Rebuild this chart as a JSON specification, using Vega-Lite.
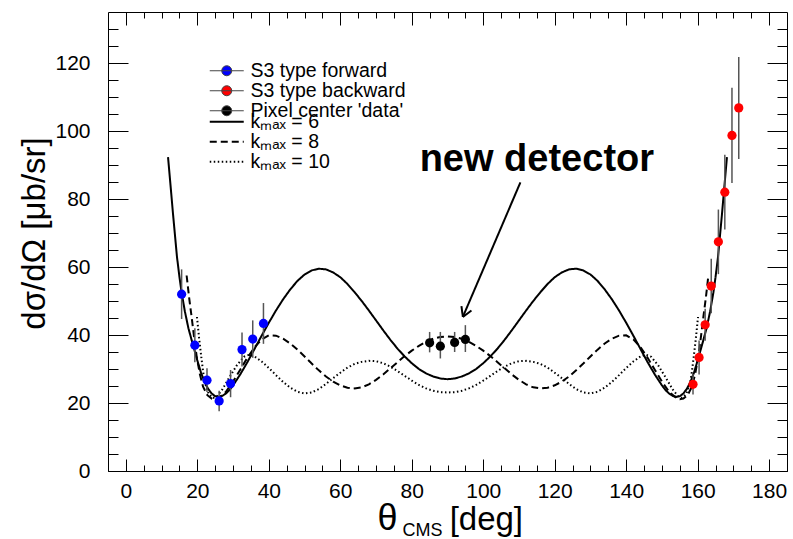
{
  "$schema": "https://vega.github.io/schema/vega-lite/v6.json",
  "width": 679,
  "height": 459,
  "autosize": {"type": "none"},
  "padding": {"left": 108, "top": 12, "right": 6, "bottom": 68},
  "background": "white",
  "config": {
    "view": {"stroke": "black", "strokeWidth": 1},
    "axis": {"domain": false, "grid": false, "labelColor": "black", "tickColor": "black", "tickWidth": 1, "labelOverlap": false, "labelFlush": false}
  },
  "datasets": {
    "curves": [
      {"k":"kₘₐₓ = 6","t":11.8,"v":92.3},{"k":"kₘₐₓ = 6","t":12.5,"v":84.0},{"k":"kₘₐₓ = 6","t":13.2,"v":75.5},{"k":"kₘₐₓ = 6","t":14.3,"v":63.0},{"k":"kₘₐₓ = 6","t":15.0,"v":57.0},{"k":"kₘₐₓ = 6","t":15.6,"v":52.5},{"k":"kₘₐₓ = 6","t":16.5,"v":47.0},{"k":"kₘₐₓ = 6","t":17.5,"v":42.0},{"k":"kₘₐₓ = 6","t":18.8,"v":37.0},{"k":"kₘₐₓ = 6","t":20.0,"v":32.5},{"k":"kₘₐₓ = 6","t":21.0,"v":29.0},{"k":"kₘₐₓ = 6","t":22.0,"v":26.2},{"k":"kₘₐₓ = 6","t":23.0,"v":24.2},{"k":"kₘₐₓ = 6","t":24.0,"v":22.8},{"k":"kₘₐₓ = 6","t":25.0,"v":22.0},{"k":"kₘₐₓ = 6","t":26.0,"v":21.8},{"k":"kₘₐₓ = 6","t":27.0,"v":22.1},{"k":"kₘₐₓ = 6","t":28.0,"v":22.8},{"k":"kₘₐₓ = 6","t":29.0,"v":23.8},{"k":"kₘₐₓ = 6","t":30.0,"v":25.2},{"k":"kₘₐₓ = 6","t":32.0,"v":28.4},{"k":"kₘₐₓ = 6","t":34.0,"v":32.0},{"k":"kₘₐₓ = 6","t":36.0,"v":35.9},{"k":"kₘₐₓ = 6","t":38.0,"v":39.8},{"k":"kₘₐₓ = 6","t":40.0,"v":43.6},{"k":"kₘₐₓ = 6","t":42.0,"v":47.2},{"k":"kₘₐₓ = 6","t":44.0,"v":50.5},{"k":"kₘₐₓ = 6","t":46.0,"v":53.4},{"k":"kₘₐₓ = 6","t":48.0,"v":55.9},{"k":"kₘₐₓ = 6","t":50.0,"v":57.8},{"k":"kₘₐₓ = 6","t":52.0,"v":59.0},{"k":"kₘₐₓ = 6","t":54.0,"v":59.5},{"k":"kₘₐₓ = 6","t":56.0,"v":59.3},{"k":"kₘₐₓ = 6","t":58.0,"v":58.4},{"k":"kₘₐₓ = 6","t":60.0,"v":57.0},{"k":"kₘₐₓ = 6","t":62.0,"v":55.0},{"k":"kₘₐₓ = 6","t":64.0,"v":52.6},{"k":"kₘₐₓ = 6","t":66.0,"v":50.0},{"k":"kₘₐₓ = 6","t":68.0,"v":47.2},{"k":"kₘₐₓ = 6","t":70.0,"v":44.3},{"k":"kₘₐₓ = 6","t":72.0,"v":41.4},{"k":"kₘₐₓ = 6","t":74.0,"v":38.6},{"k":"kₘₐₓ = 6","t":76.0,"v":36.0},{"k":"kₘₐₓ = 6","t":78.0,"v":33.7},{"k":"kₘₐₓ = 6","t":80.0,"v":31.7},{"k":"kₘₐₓ = 6","t":82.0,"v":30.0},{"k":"kₘₐₓ = 6","t":84.0,"v":28.7},{"k":"kₘₐₓ = 6","t":86.0,"v":27.8},{"k":"kₘₐₓ = 6","t":88.0,"v":27.2},{"k":"kₘₐₓ = 6","t":90.0,"v":27.0},{"k":"kₘₐₓ = 6","t":92.0,"v":27.2},{"k":"kₘₐₓ = 6","t":94.0,"v":27.8},{"k":"kₘₐₓ = 6","t":96.0,"v":28.7},{"k":"kₘₐₓ = 6","t":98.0,"v":30.0},{"k":"kₘₐₓ = 6","t":100.0,"v":31.7},{"k":"kₘₐₓ = 6","t":102.0,"v":33.7},{"k":"kₘₐₓ = 6","t":104.0,"v":36.0},{"k":"kₘₐₓ = 6","t":106.0,"v":38.6},{"k":"kₘₐₓ = 6","t":108.0,"v":41.4},{"k":"kₘₐₓ = 6","t":110.0,"v":44.3},{"k":"kₘₐₓ = 6","t":112.0,"v":47.2},{"k":"kₘₐₓ = 6","t":114.0,"v":50.0},{"k":"kₘₐₓ = 6","t":116.0,"v":52.6},{"k":"kₘₐₓ = 6","t":118.0,"v":55.0},{"k":"kₘₐₓ = 6","t":120.0,"v":57.0},{"k":"kₘₐₓ = 6","t":122.0,"v":58.4},{"k":"kₘₐₓ = 6","t":124.0,"v":59.3},{"k":"kₘₐₓ = 6","t":126.0,"v":59.5},{"k":"kₘₐₓ = 6","t":128.0,"v":59.0},{"k":"kₘₐₓ = 6","t":130.0,"v":57.8},{"k":"kₘₐₓ = 6","t":132.0,"v":55.9},{"k":"kₘₐₓ = 6","t":134.0,"v":53.4},{"k":"kₘₐₓ = 6","t":136.0,"v":50.5},{"k":"kₘₐₓ = 6","t":138.0,"v":47.2},{"k":"kₘₐₓ = 6","t":140.0,"v":43.6},{"k":"kₘₐₓ = 6","t":142.0,"v":39.8},{"k":"kₘₐₓ = 6","t":144.0,"v":35.9},{"k":"kₘₐₓ = 6","t":146.0,"v":32.0},{"k":"kₘₐₓ = 6","t":148.0,"v":28.4},{"k":"kₘₐₓ = 6","t":150.0,"v":25.2},{"k":"kₘₐₓ = 6","t":151.0,"v":23.8},{"k":"kₘₐₓ = 6","t":152.0,"v":22.8},{"k":"kₘₐₓ = 6","t":153.0,"v":22.1},{"k":"kₘₐₓ = 6","t":154.0,"v":21.8},{"k":"kₘₐₓ = 6","t":155.0,"v":22.0},{"k":"kₘₐₓ = 6","t":156.0,"v":22.8},{"k":"kₘₐₓ = 6","t":157.0,"v":24.2},{"k":"kₘₐₓ = 6","t":158.0,"v":26.2},{"k":"kₘₐₓ = 6","t":159.0,"v":29.0},{"k":"kₘₐₓ = 6","t":160.0,"v":32.5},{"k":"kₘₐₓ = 6","t":161.2,"v":37.0},{"k":"kₘₐₓ = 6","t":162.5,"v":42.0},{"k":"kₘₐₓ = 6","t":163.5,"v":47.0},{"k":"kₘₐₓ = 6","t":164.4,"v":52.5},{"k":"kₘₐₓ = 6","t":165.0,"v":57.0},{"k":"kₘₐₓ = 6","t":165.7,"v":63.0},{"k":"kₘₐₓ = 6","t":166.8,"v":75.5},{"k":"kₘₐₓ = 6","t":167.5,"v":84.0},{"k":"kₘₐₓ = 6","t":168.2,"v":92.3},
      {"k":"kₘₐₓ = 8","t":17.0,"v":57.5},{"k":"kₘₐₓ = 8","t":17.7,"v":51.0},{"k":"kₘₐₓ = 8","t":18.4,"v":45.3},{"k":"kₘₐₓ = 8","t":19.1,"v":39.3},{"k":"kₘₐₓ = 8","t":19.8,"v":33.8},{"k":"kₘₐₓ = 8","t":20.7,"v":28.5},{"k":"kₘₐₓ = 8","t":21.6,"v":24.8},{"k":"kₘₐₓ = 8","t":22.8,"v":22.3},{"k":"kₘₐₓ = 8","t":24.0,"v":21.3},{"k":"kₘₐₓ = 8","t":25.0,"v":21.1},{"k":"kₘₐₓ = 8","t":26.0,"v":21.5},{"k":"kₘₐₓ = 8","t":28.0,"v":23.3},{"k":"kₘₐₓ = 8","t":30.0,"v":26.3},{"k":"kₘₐₓ = 8","t":32.0,"v":29.8},{"k":"kₘₐₓ = 8","t":34.0,"v":33.3},{"k":"kₘₐₓ = 8","t":36.0,"v":36.4},{"k":"kₘₐₓ = 8","t":38.0,"v":38.7},{"k":"kₘₐₓ = 8","t":40.0,"v":39.9},{"k":"kₘₐₓ = 8","t":42.0,"v":39.8},{"k":"kₘₐₓ = 8","t":44.0,"v":38.9},{"k":"kₘₐₓ = 8","t":46.0,"v":37.5},{"k":"kₘₐₓ = 8","t":48.0,"v":35.7},{"k":"kₘₐₓ = 8","t":50.0,"v":33.7},{"k":"kₘₐₓ = 8","t":52.0,"v":31.6},{"k":"kₘₐₓ = 8","t":54.0,"v":29.6},{"k":"kₘₐₓ = 8","t":56.0,"v":27.8},{"k":"kₘₐₓ = 8","t":58.0,"v":26.3},{"k":"kₘₐₓ = 8","t":60.0,"v":25.2},{"k":"kₘₐₓ = 8","t":62.0,"v":24.5},{"k":"kₘₐₓ = 8","t":64.0,"v":24.3},{"k":"kₘₐₓ = 8","t":66.0,"v":24.6},{"k":"kₘₐₓ = 8","t":68.0,"v":25.5},{"k":"kₘₐₓ = 8","t":70.0,"v":26.8},{"k":"kₘₐₓ = 8","t":72.0,"v":28.4},{"k":"kₘₐₓ = 8","t":74.0,"v":30.2},{"k":"kₘₐₓ = 8","t":76.0,"v":32.0},{"k":"kₘₐₓ = 8","t":78.0,"v":33.8},{"k":"kₘₐₓ = 8","t":80.0,"v":35.4},{"k":"kₘₐₓ = 8","t":82.0,"v":36.8},{"k":"kₘₐₓ = 8","t":84.0,"v":38.0},{"k":"kₘₐₓ = 8","t":86.0,"v":38.9},{"k":"kₘₐₓ = 8","t":88.0,"v":39.4},{"k":"kₘₐₓ = 8","t":90.0,"v":39.6},{"k":"kₘₐₓ = 8","t":92.0,"v":39.4},{"k":"kₘₐₓ = 8","t":94.0,"v":38.9},{"k":"kₘₐₓ = 8","t":96.0,"v":38.0},{"k":"kₘₐₓ = 8","t":98.0,"v":36.8},{"k":"kₘₐₓ = 8","t":100.0,"v":35.4},{"k":"kₘₐₓ = 8","t":102.0,"v":33.8},{"k":"kₘₐₓ = 8","t":104.0,"v":32.0},{"k":"kₘₐₓ = 8","t":106.0,"v":30.2},{"k":"kₘₐₓ = 8","t":108.0,"v":28.4},{"k":"kₘₐₓ = 8","t":110.0,"v":26.8},{"k":"kₘₐₓ = 8","t":112.0,"v":25.5},{"k":"kₘₐₓ = 8","t":114.0,"v":24.6},{"k":"kₘₐₓ = 8","t":116.0,"v":24.3},{"k":"kₘₐₓ = 8","t":118.0,"v":24.5},{"k":"kₘₐₓ = 8","t":120.0,"v":25.2},{"k":"kₘₐₓ = 8","t":122.0,"v":26.3},{"k":"kₘₐₓ = 8","t":124.0,"v":27.8},{"k":"kₘₐₓ = 8","t":126.0,"v":29.6},{"k":"kₘₐₓ = 8","t":128.0,"v":31.6},{"k":"kₘₐₓ = 8","t":130.0,"v":33.7},{"k":"kₘₐₓ = 8","t":132.0,"v":35.7},{"k":"kₘₐₓ = 8","t":134.0,"v":37.5},{"k":"kₘₐₓ = 8","t":136.0,"v":38.9},{"k":"kₘₐₓ = 8","t":138.0,"v":39.8},{"k":"kₘₐₓ = 8","t":140.0,"v":39.9},{"k":"kₘₐₓ = 8","t":142.0,"v":38.7},{"k":"kₘₐₓ = 8","t":144.0,"v":36.4},{"k":"kₘₐₓ = 8","t":146.0,"v":33.3},{"k":"kₘₐₓ = 8","t":148.0,"v":29.8},{"k":"kₘₐₓ = 8","t":150.0,"v":26.3},{"k":"kₘₐₓ = 8","t":152.0,"v":23.3},{"k":"kₘₐₓ = 8","t":154.0,"v":21.5},{"k":"kₘₐₓ = 8","t":155.0,"v":21.1},{"k":"kₘₐₓ = 8","t":156.0,"v":21.3},{"k":"kₘₐₓ = 8","t":157.2,"v":22.3},{"k":"kₘₐₓ = 8","t":158.4,"v":24.8},{"k":"kₘₐₓ = 8","t":159.3,"v":28.5},{"k":"kₘₐₓ = 8","t":160.2,"v":33.8},{"k":"kₘₐₓ = 8","t":160.9,"v":39.3},{"k":"kₘₐₓ = 8","t":161.6,"v":45.3},{"k":"kₘₐₓ = 8","t":162.3,"v":51.0},{"k":"kₘₐₓ = 8","t":163.0,"v":57.5},
      {"k":"kₘₐₓ = 10","t":19.9,"v":45.3},{"k":"kₘₐₓ = 10","t":20.5,"v":39.0},{"k":"kₘₐₓ = 10","t":21.1,"v":33.6},{"k":"kₘₐₓ = 10","t":21.6,"v":29.3},{"k":"kₘₐₓ = 10","t":22.1,"v":26.0},{"k":"kₘₐₓ = 10","t":23.2,"v":22.6},{"k":"kₘₐₓ = 10","t":24.4,"v":21.5},{"k":"kₘₐₓ = 10","t":25.5,"v":22.0},{"k":"kₘₐₓ = 10","t":27.0,"v":24.0},{"k":"kₘₐₓ = 10","t":29.0,"v":27.6},{"k":"kₘₐₓ = 10","t":31.0,"v":31.0},{"k":"kₘₐₓ = 10","t":33.0,"v":33.6},{"k":"kₘₐₓ = 10","t":34.5,"v":34.2},{"k":"kₘₐₓ = 10","t":36.0,"v":33.7},{"k":"kₘₐₓ = 10","t":38.0,"v":32.2},{"k":"kₘₐₓ = 10","t":40.0,"v":30.3},{"k":"kₘₐₓ = 10","t":42.0,"v":28.2},{"k":"kₘₐₓ = 10","t":44.0,"v":26.2},{"k":"kₘₐₓ = 10","t":46.0,"v":24.5},{"k":"kₘₐₓ = 10","t":48.0,"v":23.3},{"k":"kₘₐₓ = 10","t":50.0,"v":22.8},{"k":"kₘₐₓ = 10","t":52.0,"v":23.1},{"k":"kₘₐₓ = 10","t":54.0,"v":24.1},{"k":"kₘₐₓ = 10","t":56.0,"v":25.6},{"k":"kₘₐₓ = 10","t":58.0,"v":27.3},{"k":"kₘₐₓ = 10","t":60.0,"v":28.9},{"k":"kₘₐₓ = 10","t":62.0,"v":30.4},{"k":"kₘₐₓ = 10","t":64.0,"v":31.5},{"k":"kₘₐₓ = 10","t":66.0,"v":32.1},{"k":"kₘₐₓ = 10","t":68.0,"v":32.4},{"k":"kₘₐₓ = 10","t":70.0,"v":32.3},{"k":"kₘₐₓ = 10","t":72.0,"v":31.7},{"k":"kₘₐₓ = 10","t":74.0,"v":30.7},{"k":"kₘₐₓ = 10","t":76.0,"v":29.4},{"k":"kₘₐₓ = 10","t":78.0,"v":28.0},{"k":"kₘₐₓ = 10","t":80.0,"v":26.6},{"k":"kₘₐₓ = 10","t":82.0,"v":25.3},{"k":"kₘₐₓ = 10","t":84.0,"v":24.3},{"k":"kₘₐₓ = 10","t":86.0,"v":23.6},{"k":"kₘₐₓ = 10","t":88.0,"v":23.2},{"k":"kₘₐₓ = 10","t":90.0,"v":23.1},{"k":"kₘₐₓ = 10","t":92.0,"v":23.2},{"k":"kₘₐₓ = 10","t":94.0,"v":23.6},{"k":"kₘₐₓ = 10","t":96.0,"v":24.3},{"k":"kₘₐₓ = 10","t":98.0,"v":25.3},{"k":"kₘₐₓ = 10","t":100.0,"v":26.6},{"k":"kₘₐₓ = 10","t":102.0,"v":28.0},{"k":"kₘₐₓ = 10","t":104.0,"v":29.4},{"k":"kₘₐₓ = 10","t":106.0,"v":30.7},{"k":"kₘₐₓ = 10","t":108.0,"v":31.7},{"k":"kₘₐₓ = 10","t":110.0,"v":32.3},{"k":"kₘₐₓ = 10","t":112.0,"v":32.4},{"k":"kₘₐₓ = 10","t":114.0,"v":32.1},{"k":"kₘₐₓ = 10","t":116.0,"v":31.5},{"k":"kₘₐₓ = 10","t":118.0,"v":30.4},{"k":"kₘₐₓ = 10","t":120.0,"v":28.9},{"k":"kₘₐₓ = 10","t":122.0,"v":27.3},{"k":"kₘₐₓ = 10","t":124.0,"v":25.6},{"k":"kₘₐₓ = 10","t":126.0,"v":24.1},{"k":"kₘₐₓ = 10","t":128.0,"v":23.1},{"k":"kₘₐₓ = 10","t":130.0,"v":22.8},{"k":"kₘₐₓ = 10","t":132.0,"v":23.3},{"k":"kₘₐₓ = 10","t":134.0,"v":24.5},{"k":"kₘₐₓ = 10","t":136.0,"v":26.2},{"k":"kₘₐₓ = 10","t":138.0,"v":28.2},{"k":"kₘₐₓ = 10","t":140.0,"v":30.3},{"k":"kₘₐₓ = 10","t":142.0,"v":32.2},{"k":"kₘₐₓ = 10","t":144.0,"v":33.7},{"k":"kₘₐₓ = 10","t":145.5,"v":34.2},{"k":"kₘₐₓ = 10","t":147.0,"v":33.6},{"k":"kₘₐₓ = 10","t":149.0,"v":31.0},{"k":"kₘₐₓ = 10","t":151.0,"v":27.6},{"k":"kₘₐₓ = 10","t":153.0,"v":24.0},{"k":"kₘₐₓ = 10","t":154.5,"v":22.0},{"k":"kₘₐₓ = 10","t":155.6,"v":21.5},{"k":"kₘₐₓ = 10","t":156.8,"v":22.6},{"k":"kₘₐₓ = 10","t":157.9,"v":26.0},{"k":"kₘₐₓ = 10","t":158.4,"v":29.3},{"k":"kₘₐₓ = 10","t":158.9,"v":33.6},{"k":"kₘₐₓ = 10","t":159.5,"v":39.0},{"k":"kₘₐₓ = 10","t":160.1,"v":45.3}
    ],
    "pts": [
      {"s":"S3 type forward","t":15.6,"v":52.0,"lo":44.7,"hi":59.3},
      {"s":"S3 type forward","t":19.3,"v":37.0,"lo":32.0,"hi":42.0},
      {"s":"S3 type forward","t":22.7,"v":26.7,"lo":23.2,"hi":30.2},
      {"s":"S3 type forward","t":26.1,"v":20.6,"lo":17.6,"hi":23.6},
      {"s":"S3 type forward","t":29.3,"v":25.7,"lo":21.7,"hi":29.7},
      {"s":"S3 type forward","t":32.5,"v":35.7,"lo":30.7,"hi":40.7},
      {"s":"S3 type forward","t":35.5,"v":38.8,"lo":33.3,"hi":44.3},
      {"s":"S3 type forward","t":38.5,"v":43.4,"lo":37.4,"hi":49.4},
      {"s":"S3 type backward","t":158.7,"v":25.5,"lo":22.5,"hi":28.5},
      {"s":"S3 type backward","t":160.4,"v":33.4,"lo":28.4,"hi":38.4},
      {"s":"S3 type backward","t":162.1,"v":43.0,"lo":38.3,"hi":47.7},
      {"s":"S3 type backward","t":163.8,"v":54.4,"lo":46.4,"hi":62.4},
      {"s":"S3 type backward","t":165.8,"v":67.4,"lo":57.9,"hi":76.9},
      {"s":"S3 type backward","t":167.6,"v":82.0,"lo":71.0,"hi":93.0},
      {"s":"S3 type backward","t":169.6,"v":98.7,"lo":84.7,"hi":112.7},
      {"s":"S3 type backward","t":171.5,"v":106.8,"lo":91.8,"hi":121.8},
      {"s":"Pixel center 'data'","t":85.0,"v":37.7,"lo":34.9,"hi":40.9},
      {"s":"Pixel center 'data'","t":88.0,"v":36.7,"lo":33.1,"hi":40.9},
      {"s":"Pixel center 'data'","t":92.0,"v":37.8,"lo":35.0,"hi":40.9},
      {"s":"Pixel center 'data'","t":95.0,"v":38.7,"lo":35.0,"hi":42.9}
    ]
  },
  "resolve": {"axis": {"x": "independent", "y": "independent"}},
  "layer": [
    {
      "data": {"name": "curves"},
      "mark": {"type": "line", "color": "black", "strokeWidth": 2},
      "encoding": {
        "x": {"field": "t", "type": "quantitative", "scale": {"domain": [-5, 185], "nice": false, "zero": false},
              "axis": {"orient": "bottom", "values": [0,20,40,60,80,100,120,140,160,180], "ticks": false, "labelPadding": 9, "labelFont": "Liberation Sans", "labelFontSize": 21, "title": null}},
        "y": {"field": "v", "type": "quantitative", "scale": {"domain": [0, 135], "nice": false, "zero": false},
              "axis": {"orient": "left", "values": [0,20,40,60,80,100,120], "ticks": false, "labelPadding": 18, "labelFont": "Liberation Sans", "labelFontSize": 21,
                       "title": "dσ/dΩ [μb/sr]", "titleFont": "Liberation Sans", "titleFontSize": 33, "titleFontWeight": "normal", "titleColor": "black", "titleX": -74, "titleY": 221, "titleAngle": -90, "titleAlign": "center", "titleBaseline": "middle"}},
        "strokeDash": {"field": "k", "type": "nominal",
                       "scale": {"domain": ["kₘₐₓ = 6", "kₘₐₓ = 8", "kₘₐₓ = 10"], "range": [[1, 0], [7, 4], [1.5, 2.5]]},
                       "legend": {"orient": "none", "legendX": 109, "legendY": 100, "title": null, "padding": 0, "symbolType": "M-3.4,0L3.4,0", "symbolSize": 100, "symbolStrokeWidth": 2, "symbolStrokeColor": "black", "labelFont": "Liberation Sans", "labelFontSize": 19.5, "labelColor": "black", "labelOffset": 14, "rowPadding": -2.4}}
      }
    },
    {
      "data": {"name": "pts"},
      "mark": {"type": "rule", "color": "#555555", "strokeWidth": 1.5},
      "encoding": {
        "x": {"field": "t", "type": "quantitative", "scale": {"domain": [-5, 185], "nice": false, "zero": false},
              "axis": {"orient": "bottom", "values": [0,20,40,60,80,100,120,140,160,180], "labels": false, "tickSize": 12, "offset": -12, "title": null}},
        "y": {"field": "lo", "type": "quantitative", "scale": {"domain": [0, 135], "nice": false, "zero": false},
              "axis": {"orient": "left", "values": [0,20,40,60,80,100,120], "labels": false, "tickSize": 20, "offset": -20, "title": null}},
        "y2": {"field": "hi"}
      }
    },
    {
      "data": {"name": "pts"},
      "transform": [{"filter": "datum.s === 'S3 type forward'"}],
      "mark": {"type": "circle", "size": 85, "opacity": 1},
      "encoding": {
        "x": {"field": "t", "type": "quantitative", "scale": {"domain": [-5, 185], "nice": false, "zero": false},
              "axis": {"orient": "bottom", "values": [0,5,10,15,20,25,30,35,40,45,50,55,60,65,70,75,80,85,90,95,100,105,110,115,120,125,130,135,140,145,150,155,160,165,170,175,180], "labels": false, "tickSize": 6, "offset": -6, "title": null}},
        "y": {"field": "v", "type": "quantitative", "scale": {"domain": [0, 135], "nice": false, "zero": false},
              "axis": {"orient": "left", "values": [0,5,10,15,20,25,30,35,40,45,50,55,60,65,70,75,80,85,90,95,100,105,110,115,120,125,130], "labels": false, "tickSize": 10, "offset": -10, "title": null}},
        "color": {"field": "s", "type": "nominal",
                  "scale": {"domain": ["S3 type forward", "S3 type backward", "Pixel center 'data'"], "range": ["#0000ff", "#ff0000", "#000000"]},
                  "legend": {"orient": "none", "legendX": 109, "legendY": 49, "title": null, "padding": 0, "symbolType": "M-3.4,0L3.4,0M1,0A1,1,0,1,1,-1,0A1,1,0,1,1,1,0Z", "symbolSize": 100, "symbolStrokeWidth": 1, "symbolStrokeColor": "#444444", "labelFont": "Liberation Sans", "labelFontSize": 19.5, "labelColor": "black", "labelOffset": 14, "rowPadding": -2.4}}
      }
    },
    {
      "data": {"name": "pts"},
      "transform": [{"filter": "datum.s === 'S3 type backward'"}],
      "mark": {"type": "circle", "size": 85, "opacity": 1},
      "encoding": {
        "x": {"field": "t", "type": "quantitative", "scale": {"domain": [-5, 185], "nice": false, "zero": false},
              "axis": {"orient": "top", "values": [0,20,40,60,80,100,120,140,160,180], "labels": false, "tickSize": 13, "offset": -13, "title": null}},
        "y": {"field": "v", "type": "quantitative", "scale": {"domain": [0, 135], "nice": false, "zero": false},
              "axis": {"orient": "right", "values": [0,20,40,60,80,100,120], "labels": false, "tickSize": 20, "offset": -20, "title": null}},
        "color": {"field": "s", "type": "nominal"}
      }
    },
    {
      "data": {"name": "pts"},
      "transform": [{"filter": "datum.s === \"Pixel center 'data'\""}],
      "mark": {"type": "circle", "size": 85, "opacity": 1},
      "encoding": {
        "x": {"field": "t", "type": "quantitative", "scale": {"domain": [-5, 185], "nice": false, "zero": false},
              "axis": {"orient": "top", "values": [0,5,10,15,20,25,30,35,40,45,50,55,60,65,70,75,80,85,90,95,100,105,110,115,120,125,130,135,140,145,150,155,160,165,170,175,180], "labels": false, "tickSize": 6, "offset": -6, "title": null}},
        "y": {"field": "v", "type": "quantitative", "scale": {"domain": [0, 135], "nice": false, "zero": false},
              "axis": {"orient": "right", "values": [0,5,10,15,20,25,30,35,40,45,50,55,60,65,70,75,80,85,90,95,100,105,110,115,120,125,130], "labels": false, "tickSize": 10, "offset": -10, "title": null}},
        "color": {"field": "s", "type": "nominal"}
      }
    },
    {
      "data": {"values": [{}]},
      "mark": {"type": "rule", "color": "black", "strokeWidth": 2},
      "encoding": {
        "x": {"datum": 110.4, "type": "quantitative", "axis": null},
        "y": {"datum": 84.9, "type": "quantitative", "axis": null},
        "x2": {"datum": 94.3},
        "y2": {"datum": 45.3}
      }
    },
    {
      "data": {"values": [{}]},
      "mark": {"type": "rule", "color": "black", "strokeWidth": 2},
      "encoding": {
        "x": {"datum": 96.7, "type": "quantitative", "axis": null},
        "y": {"datum": 47.2, "type": "quantitative", "axis": null},
        "x2": {"datum": 94.3},
        "y2": {"datum": 45.3}
      }
    },
    {
      "data": {"values": [{}]},
      "mark": {"type": "rule", "color": "black", "strokeWidth": 2},
      "encoding": {
        "x": {"datum": 93.9, "type": "quantitative", "axis": null},
        "y": {"datum": 48.5, "type": "quantitative", "axis": null},
        "x2": {"datum": 94.3},
        "y2": {"datum": 45.3}
      }
    },
    {
      "data": {"values": [{}]},
      "mark": {"type": "text", "font": "Liberation Sans", "fontWeight": "bold", "fontSize": 38, "align": "center", "baseline": "alphabetic", "color": "black"},
      "encoding": {
        "x": {"datum": 115.0, "type": "quantitative", "axis": null},
        "y": {"datum": 88.1, "type": "quantitative", "axis": null},
        "text": {"value": "new detector"}
      }
    },
    {
      "data": {"values": [{}]},
      "mark": {"type": "text", "font": "Liberation Sans", "fontSize": 36, "align": "left", "baseline": "alphabetic", "color": "black"},
      "encoding": {
        "x": {"datum": 70.4, "type": "quantitative", "axis": null},
        "y": {"datum": -17.3, "type": "quantitative", "axis": null},
        "text": {"value": "θ"}
      }
    },
    {
      "data": {"values": [{}]},
      "mark": {"type": "text", "font": "Liberation Sans", "fontSize": 18, "align": "left", "baseline": "alphabetic", "color": "black"},
      "encoding": {
        "x": {"datum": 77.4, "type": "quantitative", "axis": null},
        "y": {"datum": -19.1, "type": "quantitative", "axis": null},
        "text": {"value": "CMS"}
      }
    },
    {
      "data": {"values": [{}]},
      "mark": {"type": "text", "font": "Liberation Sans", "fontSize": 33, "align": "left", "baseline": "alphabetic", "color": "black"},
      "encoding": {
        "x": {"datum": 90.6, "type": "quantitative", "axis": null},
        "y": {"datum": -17.3, "type": "quantitative", "axis": null},
        "text": {"value": "[deg]"}
      }
    }
  ]
}
